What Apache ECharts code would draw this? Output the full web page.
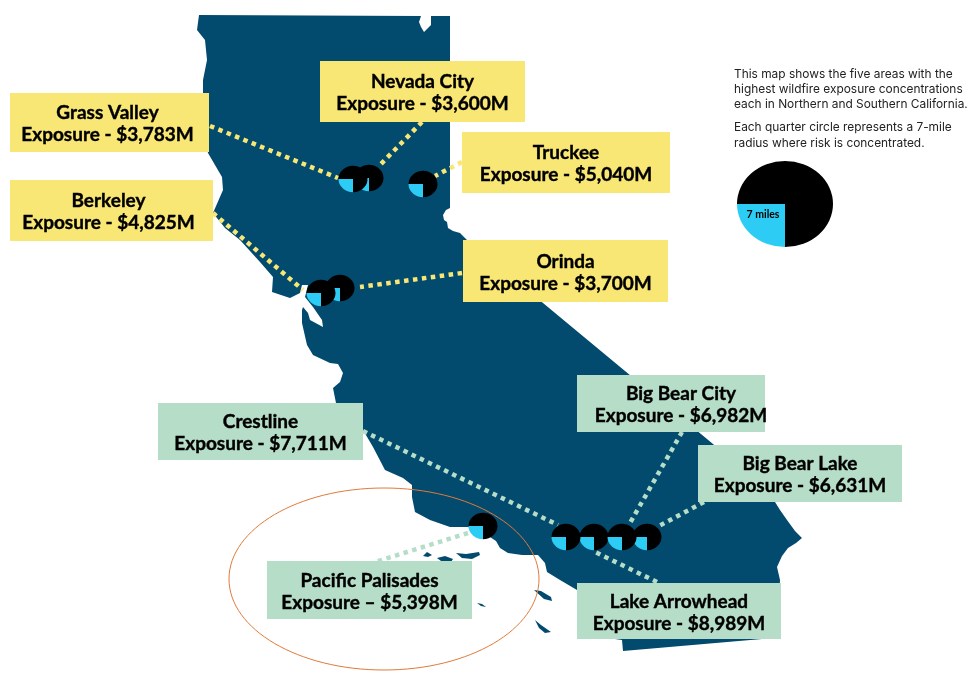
<!DOCTYPE html>
<html>
<head>
<meta charset="utf-8">
<style>
  html, body { margin: 0; padding: 0; background: #fff; }
  #chart { width: 978px; height: 692px; }
</style>
<script src="https://cdn.jsdelivr.net/npm/echarts@6/dist/echarts.min.js"></script>
</head>
<body>
<div id="chart"></div>
<script>
// map outline, in the units of the hidden x / y axes
const californiaOutline = [
  [199,15],[421,16],[419,22],[421,27],[424,32],[431,25],[431,16],[450,16],[450,208],[446,210],[443,215],
  [444,220],[447,222],[448,228],[453,231],[460,233],[467,240],[543,303],[713,444],[775,502],[780,510],
  [787,520],[795,531],[802,538],[796,543],[788,548],[782,556],[777,567],[780,580],[779,600],[778,636],
  [762,639],[623,651],[622,640],[615,639],[600,625],[577,590],[560,580],[547,572],[545,563],[538,555],
  [522,555],[508,553],[500,548],[496,541],[490,537],[468,527],[450,527],[430,520],[415,512],[412,497],
  [412,485],[403,478],[385,470],[373,447],[363,430],[336,403],[333,388],[340,382],[343,373],[338,364],
  [330,363],[313,355],[307,345],[302,323],[302,310],[303,307],[308,313],[310,320],[323,327],[322,320],
  [313,307],[305,297],[308,285],[302,285],[300,293],[290,298],[272,292],[273,277],[260,262],[240,240],
  [225,228],[213,213],[223,190],[222,177],[208,153],[203,130],[203,93],[203,80],[207,60],[205,40],[197,30]
];
const channelIslands = [
  [[423,556],[427,552],[432,555],[428,557]],
  [[437,558],[445,556],[453,559],[451,562],[441,561]],
  [[456,553],[466,554],[479,552],[480,555],[472,559],[462,558]],
  [[477,603],[482,604],[486,607],[481,606]],
  [[534,590],[541,591],[551,597],[552,601],[544,599]],
  [[535,620],[541,625],[551,632],[545,633],[539,628]]
];

const siteNames = ['Grass Valley', 'Nevada City', 'Truckee', 'Berkeley', 'Orinda', 'Crestline',
  'Big Bear City', 'Big Bear Lake', 'Lake Arrowhead', 'Pacific Palisades'];
const exposureLabels = ['Exposure - $3,783M', 'Exposure - $3,600M', 'Exposure - $5,040M', 'Exposure - $4,825M',
  'Exposure - $3,700M', 'Exposure - $7,711M', 'Exposure - $6,982M', 'Exposure - $6,631M',
  'Exposure - $8,989M', 'Exposure – $5,398M'];
const labelBoxes = [
  [10,93,209,152],[320,61,525,122],[462,132,670,193],[10,180,213,241],[463,240,668,302],
  [158,403,363,460],[577,375,765,432],[698,445,902,502],[577,583,781,639],[267,561,472,619]
];
// a few labels are not centred in their box
const labelShift = [-2, 0, 0, -3, 0, 0, 10, 0, 0, 0];
// [from label, to quarter circle]
const connectors = [
  [[210,126],[338,178]],[[422,122],[380,165]],[[462,162],[435,176]],[[213,213],[303,290]],[[462,273],[360,287]],
  [[363,431],[558,525]],[[682,432],[630,523]],[[704,502],[657,527]],[[657,582],[593,551]],[[468,533],[375,562]]
];
// draw order matters: later circles sit on top
const quarterCircles = [
  [369,178],[353,179],[423,184],[340,288],[321,293],[483,526],[647,537],[594,537],[566,537],[622,537]
];
const quarterShare = 0.25;

const noteLines = [
  ['This map shows the five areas with the', 74.5],
  ['highest wildfire exposure concentrations', 89.5],
  ['each in Northern and Southern California.', 104.5],
  ['Each quarter circle represents a 7-mile', 127.5],
  ['radius where risk is concentrated.', 143.5]
];

const NAVY = '#024A6E', YELLOW = '#F9E775', GREEN = '#B5DDC7', CYAN = '#2DCCF5';

function polygonItem(points, api) {
  return { type: 'polygon', shape: { points: points.map(p => api.coord(p)) }, style: { fill: NAVY } };
}

function pieItem(x, y, rx, ry, api) {
  const c = api.coord([x, y]);
  const start = Math.PI / 2;
  const end = start + quarterShare * 2 * Math.PI;
  const common = { x: c[0], y: c[1], scaleY: ry / rx };
  return {
    type: 'group',
    children: [
      Object.assign({ type: 'sector', shape: { cx: 0, cy: 0, r: rx, startAngle: end, endAngle: start + 2 * Math.PI }, style: { fill: '#000' } }, common),
      Object.assign({ type: 'sector', shape: { cx: 0, cy: 0, r: rx, startAngle: start, endAngle: end }, style: { fill: CYAN } }, common)
    ]
  };
}

const connectorSeries = connectors.map((c, i) => ({
  type: 'line',
  data: c,
  symbol: 'none',
  silent: true,
  z: 3,
  lineStyle: { color: i < 5 ? YELLOW : GREEN, width: 4.5, type: [4.5, 4.5] }
}));

const option = {
  animation: false,
  backgroundColor: '#fff',
  grid: { left: 0, right: 0, top: 0, bottom: 0 },
  xAxis: { type: 'value', min: 0, max: 978, show: false },
  yAxis: { type: 'value', min: 0, max: 692, inverse: true, show: false },
  series: [
    {
      type: 'custom', z: 2, silent: true,
      data: [californiaOutline].concat(channelIslands).map((_, i) => [i]),
      renderItem: (params, api) => polygonItem(params.dataIndex === 0 ? californiaOutline : channelIslands[params.dataIndex - 1], api)
    },
    ...connectorSeries,
    {
      type: 'custom', z: 4, silent: true,
      data: quarterCircles,
      renderItem: (params, api) => pieItem(api.value(0), api.value(1), 14.5, 13.2, api)
    },
    {
      type: 'custom', z: 5, silent: true,
      data: labelBoxes,
      renderItem: (params, api) => {
        const a = api.coord([api.value(0), api.value(1)]);
        const b = api.coord([api.value(2), api.value(3)]);
        const i = params.dataIndex;
        const midX = (a[0] + b[0]) / 2 + labelShift[i], midY = (a[1] + b[1]) / 2;
        // thin stroke to get the heavier look of the original bold face
        const font = { fontFamily: 'Lato', fontWeight: 'bold', fontSize: 19, fill: '#000', stroke: '#000', lineWidth: 0.4, align: 'center', verticalAlign: 'middle' };
        return {
          type: 'group',
          children: [
            { type: 'rect', shape: { x: a[0], y: a[1], width: b[0] - a[0], height: b[1] - a[1] }, style: { fill: i < 5 ? YELLOW : GREEN } },
            { type: 'text', x: midX, y: midY - 9.5, style: Object.assign({ text: siteNames[i] }, font) },
            { type: 'text', x: midX, y: midY + 12.5, style: Object.assign({ text: exposureLabels[i] }, font) }
          ]
        };
      }
    },
    {
      // orange ring around Pacific Palisades
      type: 'custom', z: 6, silent: true,
      data: [[384, 579, 155, 91]],
      renderItem: (params, api) => {
        const c = api.coord([api.value(0), api.value(1)]);
        return { type: 'ellipse', shape: { cx: c[0], cy: c[1], rx: api.value(2), ry: api.value(3) }, style: { fill: 'none', stroke: '#E07B39', lineWidth: 1 } };
      }
    },
    {
      // key at the top right
      type: 'custom', z: 6, silent: true,
      data: [[785, 204, 48, 43]],
      renderItem: (params, api) => {
        const c = api.coord([763, 215]);
        return {
          type: 'group',
          children: [
            pieItem(api.value(0), api.value(1), api.value(2), api.value(3), api),
            { type: 'text', x: c[0], y: c[1], style: { text: '7 miles', fontFamily: 'Lato', fontWeight: 'bold', fontSize: 10.5, fill: '#000', align: 'center', verticalAlign: 'middle' } }
          ]
        };
      }
    },
    {
      type: 'custom', z: 6, silent: true,
      data: noteLines.map((n, i) => [i]),
      renderItem: (params, api) => {
        const n = noteLines[params.dataIndex];
        const c = api.coord([734, n[1]]);
        return { type: 'text', x: c[0], y: c[1], style: { text: n[0], fontFamily: 'Inter', fontSize: 11.9, fill: '#222', align: 'left', verticalAlign: 'middle' } };
      }
    }
  ]
};

const myChart = echarts.init(document.getElementById('chart'));
myChart.setOption(option);
</script>
</body>
</html>
